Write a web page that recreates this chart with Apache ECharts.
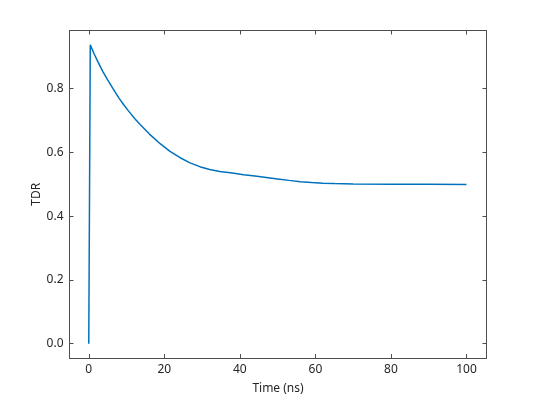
<!DOCTYPE html>
<html>
<head>
<meta charset="utf-8">
<script src="https://cdn.jsdelivr.net/npm/echarts@6/dist/echarts.min.js"></script>
<style>html,body{margin:0;padding:0;background:#fff}#c{width:537px;height:403px}</style>
</head>
<body>
<div id="c"></div>
<script>
const timeNs = [0, 0.4, 1.4, 2.5, 3.7, 5, 6.5, 8, 9.2, 10.5, 12.2, 13.6, 16, 18.9, 21.5, 24.2, 26.8, 29.4, 32, 34.7, 38, 41, 44, 47, 50, 53, 56, 59, 62, 65, 70, 80, 90, 100];
const tdr =    [0, 0.937, 0.909, 0.882, 0.854, 0.827, 0.798, 0.770, 0.750, 0.730, 0.705, 0.687, 0.658, 0.627, 0.603, 0.583, 0.567, 0.555, 0.546, 0.540, 0.535, 0.530, 0.5255, 0.521, 0.5165, 0.512, 0.508, 0.505, 0.503, 0.502, 0.501, 0.500, 0.500, 0.499];
const xTicks = [0, 20, 40, 60, 80, 100];
const yTicks = [0, 0.2, 0.4, 0.6, 0.8];

const axisColor = '#4d4d4d';
const font = 'Noto Sans';
const xr = [-5.1, 105.3];
const yr = [-0.045, 0.982];

const data = timeNs.map((t, i) => [t, tdr[i]]);

function xAx(pos, show) {
  return {
    type: 'value', position: pos, min: xr[0], max: xr[1],
    name: show ? 'Time (ns)' : '', nameLocation: 'middle', nameGap: 25,
    nameTextStyle: {color: '#262626', fontFamily: font, fontSize: 12},
    axisLine: {show: true, onZero: false, lineStyle: {color: axisColor, width: 1}},
    axisTick: {show: true, inside: true, length: 4, customValues: xTicks, lineStyle: {color: axisColor}},
    axisLabel: {show: show, customValues: xTicks, color: '#262626', fontFamily: font, fontSize: 12, margin: 6},
    splitLine: {show: false}
  };
}
function yAx(pos, show) {
  return {
    type: 'value', position: pos, min: yr[0], max: yr[1],
    name: show ? 'TDR' : '', nameLocation: 'middle', nameGap: 27, nameMoveOverlap: false,
    nameTextStyle: {color: '#262626', fontFamily: font, fontSize: 12},
    axisLine: {show: true, onZero: false, lineStyle: {color: axisColor, width: 1}},
    axisTick: {show: true, inside: true, length: 4, customValues: yTicks, lineStyle: {color: axisColor}},
    axisLabel: {show: show, customValues: yTicks, color: '#262626', fontFamily: font, fontSize: 12, margin: 6,
      formatter: v => v.toFixed(1)},
    splitLine: {show: false}
  };
}

const chart = echarts.init(document.getElementById('c'), null, {renderer: 'canvas'});
chart.setOption({
  animation: false,
  backgroundColor: '#fff',
  grid: {left: 69.5, top: 30.5, right: 50.5, bottom: 45, containLabel: false},
  xAxis: [xAx('bottom', true), xAx('top', false)],
  yAxis: [yAx('left', true), yAx('right', false)],
  series: [{
    type: 'line', data: data, xAxisIndex: 0, yAxisIndex: 0,
    showSymbol: false, smooth: false,
    lineStyle: {color: '#0072BD', width: 1.5}
  }]
});
</script>
</body>
</html>
